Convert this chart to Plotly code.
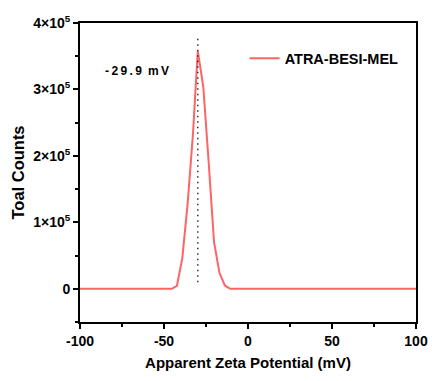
import plotly.graph_objects as go

zeta = [-100, -45.4, -42.3, -39.1, -35.9, -32.7, -29.9, -26.6, -23.4, -20.2, -17.0, -13.8, -10.6, 100]
counts = [0, 0, 4500, 46000, 129000, 235000, 358000, 304000, 190000, 70000, 24000, 5000, 0, 0]
peak_x = -29.9
peak_line_y = [10000, 382000]
ytick_vals = [0, 100000, 200000, 300000, 400000]
ytick_text = ["0", "1×10<sup>5</sup>", "2×10<sup>5</sup>", "3×10<sup>5</sup>", "4×10<sup>5</sup>"]
xtick_vals = [-100, -50, 0, 50, 100]
xtick_text = ["-100", "-50", "0", "50", "100"]

FONT = "Liberation Sans, Arial"

fig = go.Figure()
fig.add_trace(go.Scatter(x=zeta, y=counts, mode="lines", name="ATRA-BESI-MEL",
                         line=dict(color="#FF6464", width=2)))
fig.add_trace(go.Scatter(x=[peak_x, peak_x], y=peak_line_y, mode="lines", showlegend=False,
                         line=dict(color="#333333", width=1.5, dash="1.5px,4px")))
fig.add_annotation(x=-66, y=328000, text="<b>-\u20092\u20099\u2009.\u20099\u2002m\u2009V</b>", showarrow=False,
                   font=dict(family=FONT, size=12, color="black"))

axis_common = dict(showline=True, linecolor="black", linewidth=2, mirror=True,
                   ticks="outside", tickcolor="black", tickwidth=1.5, ticklen=5,
                   showgrid=False, zeroline=False, automargin=False,
                   tickfont=dict(family=FONT, size=14, color="black", weight="bold"))

fig.update_layout(
    width=432, height=381,
    margin=dict(l=80, r=16, t=23, b=59),
    plot_bgcolor="white", paper_bgcolor="white",
    showlegend=True,
    legend=dict(x=0.49, y=0.935, xanchor="left", yanchor="top", bgcolor="rgba(0,0,0,0)",
                itemwidth=30,
                font=dict(family=FONT, size=14.5, color="black", weight="bold")),
    xaxis=dict(range=[-100, 100], tickvals=xtick_vals, ticktext=xtick_text,
               minor=dict(ticks="outside", ticklen=3, tickcolor="black", dtick=25, tick0=0),
               title=dict(text="<b>Apparent Zeta Potential (mV)</b>", standoff=10,
                          font=dict(family=FONT, size=15, color="black")),
               **axis_common),
    yaxis=dict(range=[-50000, 400000], tickvals=ytick_vals, ticktext=ytick_text,
               minor=dict(ticks="outside", ticklen=3, tickcolor="black", dtick=50000, tick0=0),
               title=dict(text="<b>Toal Counts</b>", standoff=4,
                          font=dict(family=FONT, size=16.5, color="black")),
               **axis_common),
)
fig.write_html("out.html")
